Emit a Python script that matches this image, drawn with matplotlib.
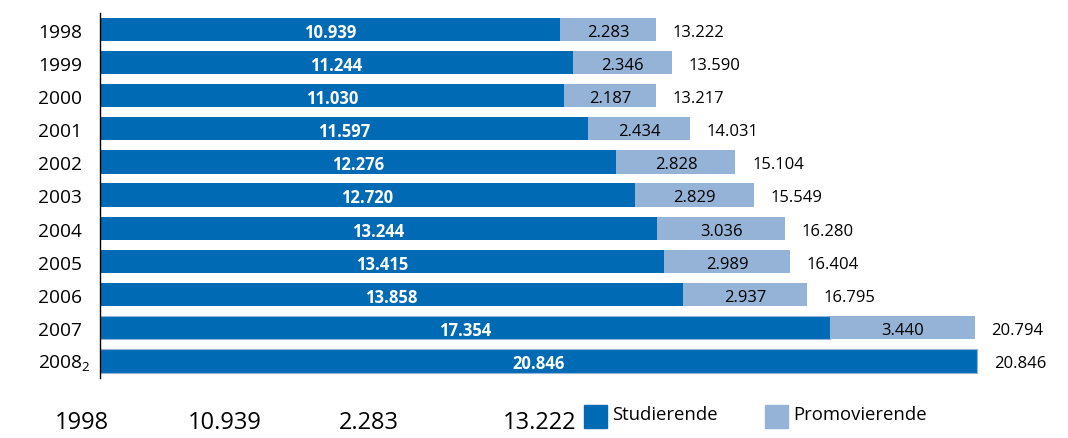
import matplotlib
matplotlib.use('Agg')
import matplotlib.pyplot as plt
from matplotlib.patches import Rectangle

plt.rcParams['font.family'] = ['Open Sans', 'DejaVu Sans']
plt.rcParams['mathtext.fontset'] = 'custom'
plt.rcParams['mathtext.rm'] = 'Open Sans'

# Daten
jahre = ['1998', '1999', '2000', '2001', '2002', '2003', '2004', '2005', '2006', '2007', '2008']
studierende = [10939, 11244, 11030, 11597, 12276, 12720, 13244, 13415, 13858, 17354, 20846]
promovierende = [2283, 2346, 2187, 2434, 2828, 2829, 3036, 2989, 2937, 3440, 0]
gesamt = [13222, 13590, 13217, 14031, 15104, 15549, 16280, 16404, 16795, 20794, 20846]
tabellenzeile = ['1998', '10.939', '2.283', '13.222']

dunkel = '#006AB4'
hell = '#95B3D7'

def fmt(v):
    return f"{v:,}".replace(',', '.')

W, H = 1068, 438
fig = plt.figure(figsize=(W / 100, H / 100), dpi=100)
ax = fig.add_axes([100 / W, (H - 377.6) / H, 950 / W, 365 / H])

pos = list(range(len(jahre)))
kanten = ['none'] * 9 + [hell, hell]
ax.barh(pos, studierende, height=0.7, color=dunkel, edgecolor=kanten, linewidth=0.8)
ax.barh(pos, promovierende, left=studierende, height=0.7, color=hell, edgecolor='none')

ax.set_ylim(10.5, -0.5)
ax.set_xlim(0, 22580)
for s in ['top', 'right', 'bottom']:
    ax.spines[s].set_visible(False)
ax.spines['left'].set_linewidth(1)
ax.set_xticks([])
ax.set_yticks([])

dy = 0.1
for i in pos:
    ax.text(studierende[i] / 2, i + dy, fmt(studierende[i]), color='white',
            fontweight='bold', ha='center', va='center', fontsize=12)
    if promovierende[i] > 0:
        ax.text(studierende[i] + promovierende[i] / 2, i + dy, fmt(promovierende[i]),
                color='black', ha='center', va='center', fontsize=12)
    ax.annotate(fmt(gesamt[i]), (gesamt[i], i + dy), xytext=(12, 0),
                textcoords='offset points', ha='left', va='center', fontsize=12)
    label = jahre[i] if i < len(jahre) - 1 else jahre[i] + r'$_\mathrm{2}$'
    ax.text(-62 / 950, i + dy, label, transform=ax.get_yaxis_transform(),
            ha='left', va='center', fontsize=13.8)

# Tabellenzeile unten
for x, t in zip([82, 225, 369, 540], tabellenzeile):
    fig.text(x / W, 1 - 423 / H, t, ha='center', va='center', fontsize=17)

# Legende
for x0, farbe, tx, name in [(584, dunkel, 612, 'Studierende'), (765, hell, 793, 'Promovierende')]:
    fig.patches.append(Rectangle((x0 / W, 1 - 428 / H), 23 / W, 23 / H,
                                 transform=fig.transFigure, color=farbe))
    fig.text(tx / W, 1 - 415 / H, name, ha='left', va='center', fontsize=13.3)

fig.savefig('out.png', dpi=100)
